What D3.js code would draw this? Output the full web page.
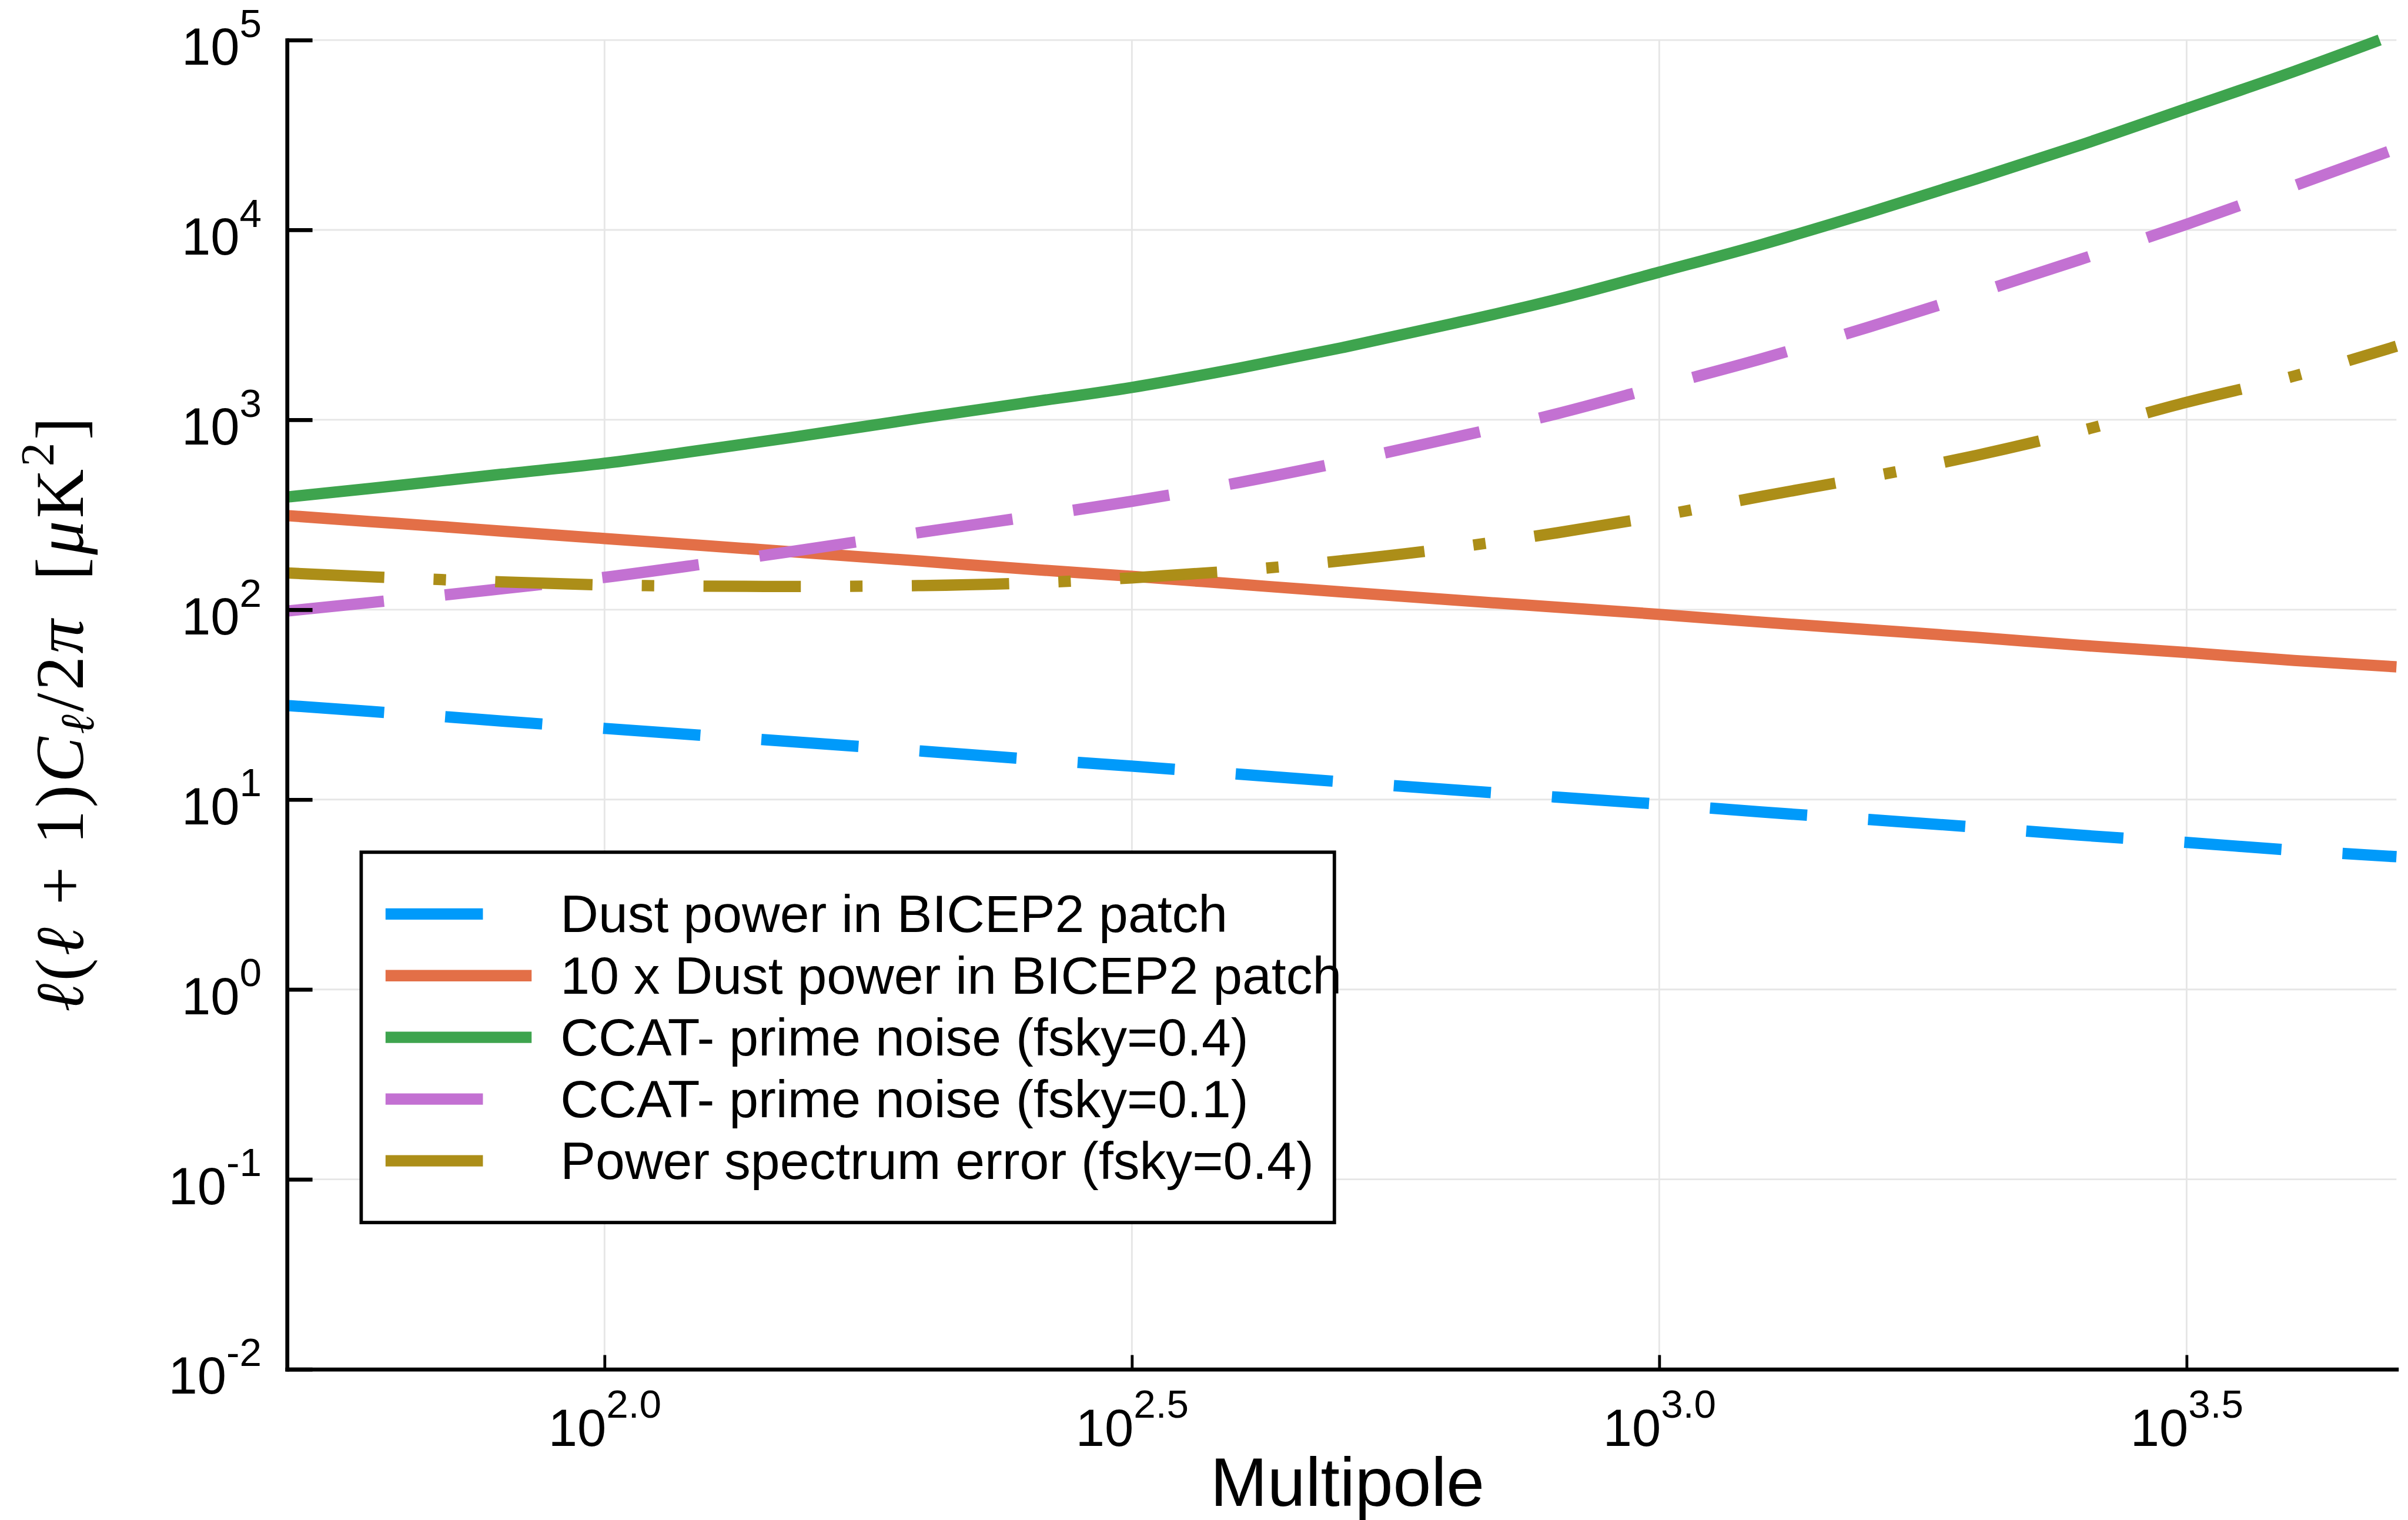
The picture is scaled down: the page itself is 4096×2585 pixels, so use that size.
<!DOCTYPE html>
<html>
<head>
<meta charset="utf-8">
<script src="https://cdn.jsdelivr.net/npm/d3@7"></script>
<style>
  body { margin: 0; background: #fff; }
  svg { display: block; }
</style>
</head>
<body>
<div id="chart"></div>
<script>
var ells = [50, 60, 70, 80, 100, 125, 150, 200, 250, 316, 400, 500, 630, 800, 1000, 1250, 1580, 2000, 2500, 3160, 4000, 5000];
// the green curve leaves the frame at the top, near l = 4820
var ellsCcat04 = [50, 60, 70, 80, 100, 125, 150, 200, 250, 316, 400, 500, 630, 800, 1000, 1250, 1580, 2000, 2500, 3160, 4000, 4820];

var dust = [31.3, 29.1, 27.4, 25.9, 23.7, 21.7, 20.2, 18.0, 16.4, 15.0, 13.6, 12.4, 11.3, 10.3, 9.45, 8.6, 7.85, 7.15, 6.5, 5.95, 5.4, 5.0];
var dust10 = [313, 291, 274, 259, 237, 217, 202, 180, 164, 150, 136, 124, 113, 103, 94.5, 86, 78.5, 71.5, 65, 59.5, 54, 50];
var ccat04 = [392, 435, 477, 517, 590, 698, 806, 1024, 1225, 1480, 1872, 2396, 3168, 4305, 5990, 8374, 12330, 18600, 27800, 43500, 68300, 100000];
var ccat01 = [98.4, 109, 119, 129, 148, 175, 202, 256, 306, 372, 468, 599, 792, 1076, 1500, 2094, 3080, 4650, 6950, 10700, 17100, 26800];
var psError = [156, 149, 144, 140, 135, 133, 132.5, 134, 138, 147, 161, 181, 210, 254, 312, 395, 500, 650, 870, 1236, 1700, 2440];

var legendLabels = [
    "Dust power in BICEP2 patch",
    "10 x Dust power in BICEP2 patch",
    "CCAT- prime noise (fsky=0.4)",
    "CCAT- prime noise (fsky=0.1)",
    "Power spectrum error (fsky=0.4)"
];
var xTickExps = ["2.0", "2.5", "3.0", "3.5"];
var yTickExps = ["-2", "-1", "0", "1", "2", "3", "4", "5"];

var sans = "'Liberation Sans', Arial, Helvetica, sans-serif";
var serif = "'Liberation Serif', 'DejaVu Serif', serif";

// everything is laid out in reference pixels, then shrunk to the window
var svg = d3.select("#chart").append("svg")
    .attr("width", 4096)
    .attr("height", 2585);
svg.append("rect").attr("width", 4096).attr("height", 2585).attr("fill", "#fff");
var g = svg.append("g").attr("transform", "scale(0.963)");

var plotLeft = 507, plotRight = 4233, plotTop = 70.7, plotBottom = 2418;

var x = d3.scaleLog().domain([50, 5000]).range([plotLeft, plotRight]);
var y = d3.scaleLog().domain([1e-2, 1e5]).range([plotBottom, plotTop]);

var xTickVals = xTickExps.map(e => Math.pow(10, +e));
var yTickVals = yTickExps.map(e => Math.pow(10, +e));

// Grid
var grid = g.append("g").attr("stroke", "#e6e6e6").attr("stroke-width", 3);
grid.selectAll(".hgrid").data(yTickVals).enter().append("line")
    .attr("x1", plotLeft).attr("x2", plotRight)
    .attr("y1", d => y(d)).attr("y2", d => y(d));
grid.selectAll(".vgrid").data(xTickVals).enter().append("line")
    .attr("x1", d => x(d)).attr("x2", d => x(d))
    .attr("y1", plotBottom).attr("y2", plotTop);

// Series
var series = [
    {ell: ells, vals: dust, color: "#009afa", dash: "172,108"},
    {ell: ells, vals: dust10, color: "#e36f47", dash: null},
    {ell: ellsCcat04, vals: ccat04, color: "#3ea44e", dash: null},
    {ell: ells, vals: ccat01, color: "#c371d2", dash: "172,108"},
    {ell: ells, vals: psError, color: "#ac8e18", dash: "172,87,22,87"}
];

g.append("clipPath").attr("id", "plotclip")
    .append("rect")
    .attr("x", plotLeft).attr("y", plotTop - 15)
    .attr("width", plotRight - plotLeft + 12).attr("height", plotBottom - plotTop + 15);

var line = d3.line()
    .x(d => x(d[0]))
    .y(d => y(d[1]))
    .curve(d3.curveMonotoneX);

g.append("g").attr("clip-path", "url(#plotclip)")
    .selectAll("path")
    .data(series)
    .enter().append("path")
    .attr("d", s => line(s.ell.map((l, i) => [l, s.vals[i]])))
    .attr("fill", "none")
    .attr("stroke", s => s.color)
    .attr("stroke-width", 20)
    .attr("stroke-linejoin", "round")
    .attr("stroke-dasharray", s => s.dash);

// Axes
var gx = g.append("g")
    .attr("transform", "translate(0," + plotBottom + ")")
    .call(d3.axisBottom(x).tickValues(xTickVals).tickSize(-25).tickSizeOuter(0).tickFormat(""));
gx.select(".domain").attr("stroke-width", 7).attr("stroke-linecap", "square");
gx.selectAll(".tick line").attr("stroke-width", 5);
gx.selectAll(".tick text").remove();
var xl = gx.selectAll(".tick").append("text")
    .attr("y", 135)
    .attr("text-anchor", "middle")
    .attr("font-family", sans)
    .attr("font-size", 92)
    .attr("fill", "#000");
xl.append("tspan").text("10");
xl.append("tspan").attr("dy", -49).attr("font-size", 70).text((d, i) => xTickExps[i]);

var gy = g.append("g")
    .attr("transform", "translate(" + plotLeft + ",0)")
    .call(d3.axisLeft(y).tickValues(yTickVals).tickSize(-45).tickSizeOuter(0).tickFormat(""));
gy.select(".domain").attr("stroke-width", 7).attr("stroke-linecap", "square");
gy.selectAll(".tick line").attr("stroke-width", 7);
gy.selectAll(".tick text").remove();
var yl = gy.selectAll(".tick").append("text")
    .attr("x", -45)
    .attr("y", 43)
    .attr("text-anchor", "end")
    .attr("font-family", sans)
    .attr("font-size", 92)
    .attr("fill", "#000");
yl.append("tspan").text("10");
yl.append("tspan").attr("dy", -49).attr("font-size", 70).text((d, i) => yTickExps[i]);

// Axis titles
g.append("text")
    .attr("x", 2380).attr("y", 2659)
    .attr("text-anchor", "middle")
    .attr("font-family", sans)
    .attr("font-size", 121)
    .text("Multipole");

var yTitleParts = [
    ["ℓ", "i"], ["(", ""], ["ℓ", "i"], [" + 1)", ""], ["C", "i"], ["ℓ", "sub"],
    ["/2", ""], ["π", "i"], ["\u2002[", ""], ["μ", "i"], ["K", ""], ["2", "sup"], ["]", ""]
];
var yTitle = g.append("text")
    .attr("transform", "translate(146,1262) rotate(-90)")
    .attr("text-anchor", "middle")
    .attr("font-family", serif)
    .attr("font-size", 120)
    .attr("textLength", 1050)
    .attr("lengthAdjust", "spacing");
var shift = 0;
yTitleParts.forEach(p => {
    var target = p[1] == "sub" ? 19 : (p[1] == "sup" ? -52 : 0);
    var t = yTitle.append("tspan").attr("dy", target - shift).text(p[0]);
    if (p[1] == "i" || p[1] == "sub") t.attr("font-style", "italic");
    if (p[1] == "sub" || p[1] == "sup") t.attr("font-size", 84);
    shift = target;
});

// Legend
var legend = g.append("g");
legend.append("rect")
    .attr("x", 638).attr("y", 1505)
    .attr("width", 1719).attr("height", 654)
    .attr("fill", "#fff")
    .attr("stroke", "#000")
    .attr("stroke-width", 6);

var rows = legend.selectAll(".legend")
    .data(series)
    .enter().append("g")
    .attr("class", "legend")
    .attr("transform", (d, i) => "translate(0," + (1614 + i * 109) + ")");

rows.append("line")
    .attr("x1", 681).attr("x2", 939)
    .attr("y1", 0).attr("y2", 0)
    .attr("stroke", d => d.color)
    .attr("stroke-width", 20)
    .attr("stroke-dasharray", d => d.dash);

rows.append("text")
    .attr("x", 990)
    .attr("y", 32)
    .attr("font-family", sans)
    .attr("font-size", 93)
    .text((d, i) => legendLabels[i]);
</script>
</body>
</html>
